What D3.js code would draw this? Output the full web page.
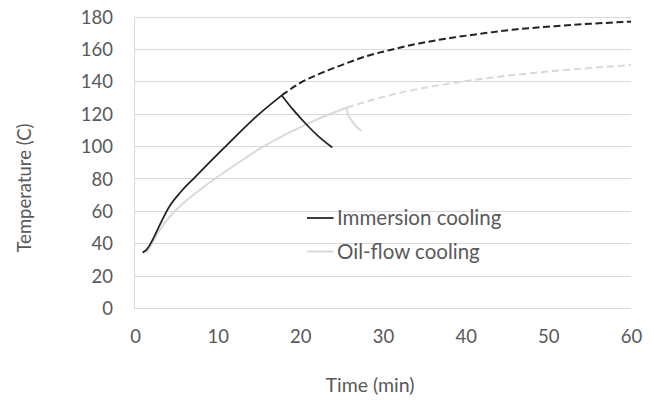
<!DOCTYPE html>
<html>
<head>
<meta charset="utf-8">
<script src="https://cdn.jsdelivr.net/npm/d3@7/dist/d3.min.js"></script>
<style>
  html, body { margin: 0; padding: 0; background: #fff; }
  svg { display: block; }
  text { font-family: Lato, "Open Sans", sans-serif; fill: #595959; }
</style>
</head>
<body>
<svg id="chart" width="654" height="400"></svg>
<script>
// Immersion cooling: heating phase, cool-down after shutoff, projected heating (dashed)
const immersionHeatTime = [0.93, 1.4, 1.8, 2.6, 3.4, 4.2, 5.5, 7.3, 10.8, 14.4, 17.75];
const immersionHeatTemp = [34.2, 36, 39, 47, 55.5, 63, 71.5, 81, 99, 117, 131.3];
const immersionCoolTime = [17.75, 19.2, 20.8, 22.3, 23.87];
const immersionCoolTemp = [131.3, 122, 113, 105.5, 99.1];
const immersionProjTime = [17.75, 20, 22.5, 25, 28, 31, 34.5, 38.5, 42, 46, 50.8, 55, 60];
const immersionProjTemp = [131.3, 139, 145, 150, 155.5, 159.5, 163.5, 167, 169.5, 172, 174, 175.5, 176.8];

// Oil-flow cooling: same three phases
const oilHeatTime = [1.41, 2.2, 2.62, 3.5, 4.4, 6.25, 7.46, 9.7, 11.5, 15.5, 18.7, 20.8, 22.4, 25.6];
const oilHeatTemp = [34, 41, 45, 52, 57.5, 66.5, 71.5, 80, 86.3, 99.6, 108.5, 113.5, 117.3, 123.7];
const oilCoolTime = [25.6, 25.75, 26.1, 26.7, 27.4];
const oilCoolTemp = [123.7, 120, 116.5, 112.5, 109.3];
const oilProjTime = [25.6, 28, 30.5, 34, 38, 42, 46, 50, 55, 60];
const oilProjTemp = [123.7, 127.5, 131, 135, 138.5, 141.5, 144, 146, 148.2, 150];

const xTicks = [0, 10, 20, 30, 40, 50, 60];
const yTicks = [0, 20, 40, 60, 80, 100, 120, 140, 160, 180];
const seriesNames = ["Immersion cooling", "Oil-flow cooling"];

const svg = d3.select("#chart");
const plotLeft = 135, plotRight = 631, plotTop = 16.5, plotBottom = 308;

const x = d3.scaleLinear().domain([0, 60]).range([plotLeft, plotRight]);
const y = d3.scaleLinear().domain([0, 180]).range([plotBottom, plotTop]);

const gridColor = "#d9d9d9";
const darkColor = "#222222";
const lightColor = "#d9d9d9";

// horizontal gridlines
svg.append("g")
  .selectAll("line")
  .data(yTicks)
  .join("line")
  .attr("x1", plotLeft).attr("x2", plotRight)
  .attr("y1", d => Math.round(y(d)) + 0.5).attr("y2", d => Math.round(y(d)) + 0.5)
  .attr("stroke", gridColor).attr("stroke-width", 1);

// left axis line
svg.append("line")
  .attr("x1", plotLeft - 0.5).attr("x2", plotLeft - 0.5)
  .attr("y1", y(180)).attr("y2", y(0) + 1)
  .attr("stroke", gridColor).attr("stroke-width", 1);

// y axis tick labels
const yAxis = d3.axisLeft(y).tickValues(yTicks).tickSize(0).tickPadding(22);
const gy = svg.append("g").attr("transform", `translate(${plotLeft},0)`).call(yAxis);
gy.select(".domain").remove();
gy.selectAll("text")
  .attr("font-size", 18.5)
  .attr("font-family", "Lato, sans-serif")
  .attr("fill", "#595959")
  .attr("dy", "0.36em");

// x axis tick labels
const xAxis = d3.axisBottom(x).tickValues(xTicks).tickSize(0).tickPadding(22);
const gx = svg.append("g").attr("transform", `translate(0,${plotBottom})`).call(xAxis);
gx.select(".domain").remove();
gx.selectAll("text")
  .attr("font-size", 18.5)
  .attr("font-family", "Lato, sans-serif")
  .attr("fill", "#595959");

// axis titles
svg.append("text")
  .attr("x", 370).attr("y", 392)
  .attr("text-anchor", "middle")
  .attr("font-size", 19.5)
  .text("Time (min)");

svg.append("text")
  .attr("transform", "translate(31,188) rotate(-90)")
  .attr("text-anchor", "middle")
  .attr("font-size", 18.5)
  .text("Temperature (C)");

const line = d3.line()
  .x(d => x(d[0]))
  .y(d => y(d[1]))
  .curve(d3.curveMonotoneX);

function pairs(ts, vs) { return ts.map((t, i) => [t, vs[i]]); }

const plot = svg.append("g").attr("fill", "none").attr("stroke-linejoin", "round");

// oil-flow drawn first so immersion sits on top
plot.append("path")
  .attr("d", line(pairs(oilProjTime, oilProjTemp)))
  .attr("stroke", lightColor).attr("stroke-width", 2).attr("stroke-dasharray", "7,4");
plot.append("path")
  .attr("d", line(pairs(oilHeatTime, oilHeatTemp)))
  .attr("stroke", lightColor).attr("stroke-width", 2);
plot.append("path")
  .attr("d", line(pairs(oilCoolTime, oilCoolTemp)))
  .attr("stroke", lightColor).attr("stroke-width", 2);

plot.append("path")
  .attr("d", line(pairs(immersionProjTime, immersionProjTemp)))
  .attr("stroke", darkColor).attr("stroke-width", 2).attr("stroke-dasharray", "7,3.5");
plot.append("path")
  .attr("d", line(pairs(immersionHeatTime, immersionHeatTemp)))
  .attr("stroke", darkColor).attr("stroke-width", 1.75);
plot.append("path")
  .attr("d", line(pairs(immersionCoolTime, immersionCoolTemp)))
  .attr("stroke", darkColor).attr("stroke-width", 1.75);

// legend
const legend = svg.append("g").attr("transform", "translate(307,218)");
const legendColors = [darkColor, lightColor];
const legendWidths = [1.75, 2];
seriesNames.forEach((name, i) => {
  const g = legend.append("g").attr("transform", `translate(0,${i * 33.5})`);
  g.append("line")
    .attr("x1", 0).attr("x2", 26.5).attr("y1", 0).attr("y2", 0)
    .attr("stroke", legendColors[i]).attr("stroke-width", legendWidths[i]);
  g.append("text")
    .attr("x", 30).attr("y", 7.2)
    .attr("font-size", 20.5)
    .text(name);
});
</script>
</body>
</html>
